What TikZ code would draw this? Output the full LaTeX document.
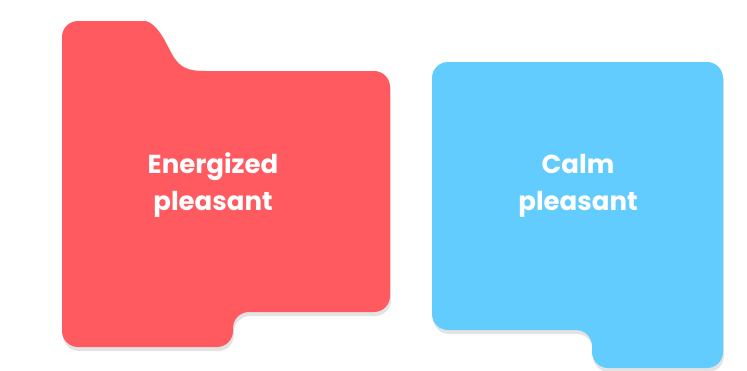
\documentclass[tikz,border=0pt]{standalone}
\usepackage{fontspec}
\setmainfont{Poppins}
\usepackage{tikz}
\usetikzlibrary{shadows}

\definecolor{moodred}{HTML}{FF5A5F}
\definecolor{moodblue}{HTML}{62CCFE}

\begin{document}
\begin{tikzpicture}[
    x=1pt, y=-1pt,
    folder/.style={
        drop shadow={shadow xshift=1pt, shadow yshift=-4pt, fill=black!60, opacity=0.18}
    },
    redfolder/.style={folder, fill=moodred},
    bluefolder/.style={folder, fill=moodblue},
    moodlabel/.style={
        text=white, align=center, inner sep=0pt,
        font=\bfseries\fontsize{26}{37}\selectfont
    }
]
\useasboundingbox (0,0) rectangle (747,370);

% Energized pleasant folder with tab on top
\path[redfolder] (205,71) [rounded corners=16pt]
    -- (390,71) -- (390,312) -- (233,312) -- (233,347)
    -- (62,347) -- (62,21) -- (128,21) [sharp corners]
    .. controls (150,21) and (157,27) .. (164,39) -- (173,56)
    .. controls (180,67) and (187,71) .. (205,71) -- cycle;

% Calm pleasant folder with tab at bottom
\path[bluefolder, rounded corners=16pt] (432,62) -- (723,62) -- (723,368)
    -- (592,368) -- (592,330) -- (432,330) -- cycle;

% Labels
\node[moodlabel] (energized) at (213,185) {Energized\\pleasant};
\node[moodlabel] (calm) at (578,186) {Calm\\pleasant};

\end{tikzpicture}
\end{document}
